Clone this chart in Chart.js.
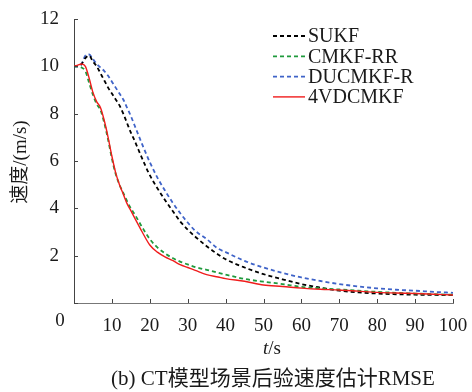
<!DOCTYPE html>
<html>
<head>
<meta charset="utf-8">
<script src="https://cdn.jsdelivr.net/npm/chart.js@4"></script>
<style>
html, body { margin: 0; padding: 0; background: #fff; }
</style>
</head>
<body>
<canvas id="myChart" width="472" height="392"></canvas>
<script>
/* Daten */
const t      = [0, 1, 2, 3, 4, 5, 6, 7, 8, 9, 10, 11, 12, 13, 14, 15, 16, 18, 20, 22, 24, 26, 28, 30, 32, 35, 38, 40, 45, 50, 55, 60, 65, 70, 75, 80, 85, 90, 95, 100];
const sukf   = [10, 10, 10.1, 10.35, 10.45, 10.2, 10.0, 9.7, 9.4, 9.1, 8.85, 8.6, 8.35, 8.0, 7.6, 7.2, 6.85, 6.1, 5.4, 4.85, 4.35, 3.9, 3.45, 3.1, 2.8, 2.4, 2.05, 1.85, 1.5, 1.22, 1.0, 0.8, 0.65, 0.52, 0.45, 0.4, 0.37, 0.35, 0.34, 0.33];
const cmkfRR = [10, 10, 9.95, 9.8, 9.3, 8.8, 8.4, 8.15, 7.6, 6.9, 6.1, 5.45, 5.0, 4.65, 4.3, 4.0, 3.75, 3.2, 2.7, 2.35, 2.1, 1.9, 1.75, 1.63, 1.52, 1.4, 1.28, 1.2, 1.02, 0.9, 0.8, 0.68, 0.62, 0.57, 0.52, 0.47, 0.43, 0.4, 0.37, 0.35];
const ducmkf = [10, 10, 10.1, 10.45, 10.5, 10.3, 10.1, 9.95, 9.8, 9.6, 9.35, 9.1, 8.85, 8.6, 8.25, 7.9, 7.5, 6.7, 5.95, 5.3, 4.75, 4.25, 3.8, 3.4, 3.05, 2.7, 2.3, 2.15, 1.78, 1.5, 1.27, 1.08, 0.93, 0.8, 0.7, 0.62, 0.56, 0.52, 0.47, 0.43];
const vdcmkf = [10, 10.05, 10.1, 10.0, 9.5, 8.9, 8.5, 8.25, 7.7, 7.0, 6.2, 5.5, 5.0, 4.6, 4.2, 3.9, 3.6, 3.0, 2.45, 2.15, 1.95, 1.8, 1.62, 1.5, 1.38, 1.2, 1.1, 1.03, 0.92, 0.76, 0.7, 0.63, 0.58, 0.55, 0.5, 0.45, 0.42, 0.4, 0.37, 0.34];
const xTicks = [0, 10, 20, 30, 40, 50, 60, 70, 80, 90, 100];
const yTicks = [0, 2, 4, 6, 8, 10, 12];

const serif = "'Liberation Serif', 'Noto Sans CJK SC', serif";

const series = [
  { label: 'SUKF',     data: sukf,   color: '#000000', dash: [4, 3], width: 1.8, order: 2 },
  { label: 'CMKF-RR',  data: cmkfRR, color: '#1f9a3c', dash: [4, 3], width: 1.8, order: 1 },
  { label: 'DUCMKF-R', data: ducmkf, color: '#3f63c8', dash: [4, 3], width: 1.8, order: 3 },
  { label: '4VDCMKF',  data: vdcmkf, color: '#f01c1c', dash: [],     width: 1.4, order: 0 }
];

/* Beschriftung, Ticks nach innen, Legende */
const deko = {
  id: 'deko',
  afterDraw(chart) {
    const c = chart.ctx;
    const xs = chart.scales.x, ys = chart.scales.y;
    const a = chart.chartArea;
    c.save();
    c.strokeStyle = '#444';
    c.lineWidth = 1;
    yTicks.forEach(v => {
      const y = Math.round(ys.getPixelForValue(v)) + 0.5;
      c.beginPath(); c.moveTo(a.left, y); c.lineTo(a.left + 4, y); c.stroke();
    });
    xTicks.forEach(v => {
      const x = Math.round(xs.getPixelForValue(v)) + 0.5;
      c.beginPath(); c.moveTo(x, a.bottom); c.lineTo(x, a.bottom - 4); c.stroke();
    });

    c.fillStyle = '#1a1a1a';
    c.font = '19px ' + serif;
    c.textAlign = 'center';
    c.textBaseline = 'middle';
    c.fillText('0', 60, 321);

    // x-Titel
    c.font = 'italic 19px ' + serif;
    const tw = c.measureText('t').width;
    c.font = '19px ' + serif;
    const sw = c.measureText('/s').width;
    const x0 = 272 - (tw + sw) / 2;
    c.textAlign = 'left';
    c.font = 'italic 19px ' + serif;
    c.fillText('t', x0, 349);
    c.font = '19px ' + serif;
    c.fillText('/s', x0 + tw, 349);

    // Unterschrift
    c.textAlign = 'center';
    c.font = '21px ' + serif;
    c.fillText('(b) CT模型场景后验速度估计RMSE', 273, 379);

    // y-Titel
    c.save();
    c.translate(21, 162);
    c.rotate(-Math.PI / 2);
    c.font = '19px ' + serif;
    c.fillText('速度/(m/s)', 0, 0);
    c.restore();

    // Legende
    c.font = '20px ' + serif;
    c.textAlign = 'left';
    series.forEach((s, i) => {
      const y = 36 + i * 20.3;
      c.strokeStyle = s.color;
      c.lineWidth = s.width;
      c.setLineDash(s.dash);
      c.beginPath(); c.moveTo(273, y); c.lineTo(305, y); c.stroke();
      c.setLineDash([]);
      c.fillStyle = '#1a1a1a';
      c.fillText(s.label, 308, y + 1);
    });
    c.restore();
  }
};

const ctx = document.getElementById('myChart');

new Chart(ctx, {
  type: 'line',
  data: {
    labels: t,
    datasets: series.map(s => ({
      label: s.label,
      data: t.map((v, i) => ({ x: v, y: s.data[i] })),
      borderColor: s.color,
      borderWidth: s.width,
      borderDash: s.dash,
      pointRadius: 0,
      fill: false,
      cubicInterpolationMode: 'monotone',
      order: s.order
    }))
  },
  options: {
    responsive: false,
    animation: false,
    devicePixelRatio: 1,
    layout: { padding: { top: 19, right: 19, left: 0, bottom: 0 } },
    plugins: { legend: { display: false }, tooltip: { enabled: false } },
    scales: {
      x: {
        type: 'linear',
        min: 0,
        max: 100,
        afterFit: s => { s.height = 89; },
        afterBuildTicks: s => { s.ticks = xTicks.map(v => ({ value: v })); },
        grid: { display: false },
        border: { color: '#777', width: 1 },
        ticks: {
          color: '#1a1a1a',
          padding: 4,
          maxRotation: 0,
          font: { family: serif, size: 19 },
          callback: v => (v === 0 ? '' : v)
        }
      },
      y: {
        min: 0,
        max: 12,
        afterFit: s => { s.width = 74; },
        afterBuildTicks: s => { s.ticks = yTicks.map(v => ({ value: v })); },
        grid: { display: false },
        border: { color: '#444', width: 1 },
        ticks: {
          color: '#1a1a1a',
          padding: 7,
          font: { family: serif, size: 19 },
          callback: v => (v === 0 ? '' : v)
        }
      }
    }
  },
  plugins: [deko]
});
</script>
</body>
</html>
